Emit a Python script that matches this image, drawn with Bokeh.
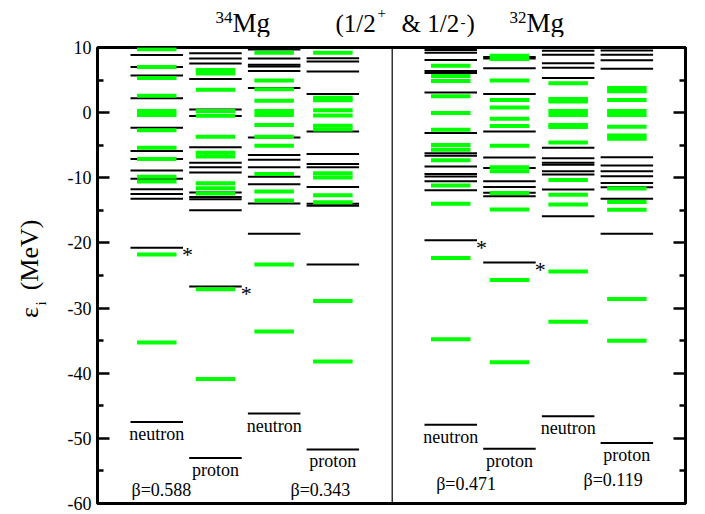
import numpy as np
from bokeh.plotting import figure
from bokeh.layouts import column, row
from bokeh.models import Range1d, LinearAxis, FixedTicker, Span, Label, ColumnDataSource
from bokeh.embed import file_html
from bokeh.resources import INLINE

# ---------------- data (single-particle energies, MeV) ----------------
nuclei = ["34Mg", "34Mg", "34Mg", "34Mg", "32Mg", "32Mg", "32Mg", "32Mg"]
kinds = ["neutron", "proton", "neutron", "proton", "neutron", "proton", "neutron", "proton"]
betas = ["\u03b2=0.588", "\u03b2=0.343", "\u03b2=0.471", "\u03b2=0.119"]

black_1 = [8.83, 7.0, 5.7, 2.2, -2.3, -5.87, -7.1, -8.9, -10.15, -11.75, -12.5, -13.2, -20.75, -47.5]
green_1 = [9.75, 7.0, 5.3, 2.6, 0.26, -0.35, -2.7, -5.4, -7.1, -9.85, -10.57, -21.76, -35.3]

black_2 = [9.1, 8.3, 7.55, 5.15, 0.5, -0.5, -5.33, -7.7, -8.4, -9.2, -12.25, -12.95, -13.3, -15.0, -26.7, -53.0]
green_2 = [6.55, 6.0, 3.5, 0.26, -0.46, -3.7, -6.15, -6.75, -10.85, -11.6, -12.4, -27.1, -40.9]

black_3 = [9.7, 8.3, 7.35, 7.1, 6.4, 3.8, -3.8, -6.5, -7.25, -8.4, -9.85, -11.0, -13.95, -18.6, -46.2]
green_3 = [9.2, 4.95, 3.6, 1.82, 0.26, -0.35, -1.9, -3.7, -5.08, -9.4, -12.1, -13.5, -23.3, -33.6]

black_4 = [8.35, 7.85, 6.3, 2.87, -2.9, -6.35, -7.9, -8.4, -11.4, -14.0, -14.3, -23.3, -51.7]
green_4 = [9.2, 2.3, 1.9, 0.38, -0.45, -2.0, -2.6, -9.3, -9.97, -12.7, -13.75, -28.9, -38.2]

black_5 = [9.6, 9.2, 8.1, 6.4, 6.1, 3.08, -3.12, -6.25, -6.6, -8.28, -9.42, -9.8, -10.55, -11.9, -19.6, -47.9]
green_5 = [7.2, 5.62, 4.87, 2.5, -0.07, -2.62, -4.97, -5.7, -7.3, -11.17, -14.0, -22.3, -34.8]

black_6 = [8.55, 8.3, 6.8, 2.85, -2.9, -6.9, -8.5, -10.55, -11.4, -12.3, -12.85, -23.0, -51.6]
green_6 = [8.75, 8.25, 4.93, 1.95, 0.8, -0.95, -2.05, -5.1, -8.4, -9.0, -12.35, -14.85, -25.7, -38.3]

black_7 = [9.5, 8.9, 7.6, 6.9, 5.3, -5.38, -7.0, -7.68, -8.0, -9.0, -9.5, -11.8, -15.9, -46.6]
green_7 = [4.5, 2.1, 1.7, 0.26, -0.35, -1.9, -2.2, -4.6, -10.35, -12.6, -14.1, -24.4, -32.1]

black_8 = [9.55, 8.9, 8.05, 6.75, -6.85, -8.1, -9.0, -9.75, -10.8, -11.45, -13.22, -18.6, -50.7]
green_8 = [3.8, 3.3, 1.95, 0.26, -0.35, -2.15, -3.5, -4.0, -11.65, -13.72, -14.9, -28.6, -35.0]

black_levels = [black_1, black_2, black_3, black_4, black_5, black_6, black_7, black_8]
green_levels = [green_1, green_2, green_3, green_4, green_5, green_6, green_7, green_8]

star_cols = [0, 1, 4, 5]
star_levels = [-20.75, -26.7, -19.6, -23.0]

y_ticks = [-60, -50, -40, -30, -20, -10, 0, 10]
y_tick_labels = ["-60", "-50", "-40", "-30", "-20", "-10", "0", "10"]
y_minor = [-55, -45, -35, -25, -15, -5, 5]

# ---------------- layout ----------------
W, H = 705, 514
TITLE_H = 37
YLAB_W = 60
FRAME_W = 588
COL_W = 52.5
GREEN_IN = 6.5
COL_STEP = 58.7
HALF = 294.0
FIRST = 33.0
FONT = "Liberation Serif"


def col_x0(i):
    return FIRST + COL_STEP * (i % 4) + HALF * (i // 4)


def bare_fig(w, h):
    f = figure(width=w, height=h, x_range=Range1d(0, w), y_range=Range1d(0, h),
               output_backend="svg", toolbar_location=None, x_axis_type=None, y_axis_type=None,
               min_border=0, min_border_left=0, min_border_right=0, min_border_top=0,
               min_border_bottom=0)
    f.outline_line_color = None
    f.background_fill_color = "white"
    f.border_fill_color = "white"
    return f


# ---------- title strip (page pixels; y is the vertical centre of the text box) ----------
tf = bare_fig(W, TITLE_H)
title_parts = [
    ("34", 215, 16.5, "17px"), ("Mg", 232, 22.0, "27px"),
    ("(1/2", 335, 22.5, "25px"), ("+", 377, 12.0, "15px"),
    ("& 1/2", 401, 22.5, "25px"), ("-", 460, 21.5, "15px"), (")", 466, 22.5, "25px"),
    ("32", 509, 16.5, "17px"), ("Mg", 526, 22.0, "27px"),
]
for t, px, py, fs in title_parts:
    tf.add_layout(Label(x=px, y=TITLE_H - py, text=t, text_font=FONT, text_font_size=fs,
                        text_align="left", text_baseline="middle", text_color="black"))

# ---------- y label strip (rotated; x is the centre of the text box) ----------
MAIN_H = H - TITLE_H
yf = bare_fig(YLAB_W, MAIN_H)
ylab = [("\u03b5", 29, 320, "26px"), ("i", 40, 307, "15px"), ("(MeV)", 29, 291, "26px")]
for t, px, py, fs in ylab:
    yf.add_layout(Label(x=px, y=MAIN_H - (py - TITLE_H), text=t, text_font=FONT,
                        text_font_size=fs, angle=np.pi / 2, angle_units="rad",
                        text_align="left", text_baseline="middle", text_color="black"))

# ---------- main plot ----------
bx0, bx1, by = [], [], []
gx0, gx1, gy = [], [], []
for i, (bl, gl) in enumerate(zip(black_levels, green_levels)):
    x0 = col_x0(i)
    for e in bl:
        bx0.append(x0); bx1.append(x0 + COL_W); by.append(e)
    for e in gl:
        gx0.append(x0 + GREEN_IN); gx1.append(x0 + COL_W - GREEN_IN); gy.append(e)

p = figure(width=W - YLAB_W, height=MAIN_H, x_range=Range1d(0, FRAME_W), y_range=Range1d(-60, 10),
           output_backend="svg", toolbar_location=None, x_axis_type=None, y_axis_type=None,
           min_border_left=97 - YLAB_W, min_border_right=20, min_border_top=47 - TITLE_H,
           min_border_bottom=11)
p.background_fill_color = "white"
p.border_fill_color = "white"
p.outline_line_color = "black"
p.outline_line_width = 3
p.outline_line_alpha = 1.0

for loc in ("left", "right"):
    ax = LinearAxis(ticker=FixedTicker(ticks=y_ticks, minor_ticks=y_minor))
    ax.axis_line_color = None
    ax.major_tick_in = 12
    ax.major_tick_out = 0
    ax.minor_tick_in = 6
    ax.minor_tick_out = 0
    ax.major_tick_line_width = 2.5
    ax.minor_tick_line_width = 2.5
    ax.major_tick_line_color = "black"
    ax.minor_tick_line_color = "black"
    if loc == "left":
        ax.major_label_overrides = {t: s for t, s in zip(y_ticks, y_tick_labels)}
        ax.major_label_text_font = FONT
        ax.major_label_text_font_size = "18px"
        ax.major_label_text_color = "black"
        ax.major_label_standoff = 6
    else:
        ax.major_label_text_font_size = "1px"
        ax.major_label_text_color = None
        ax.major_label_standoff = 0
    p.add_layout(ax, loc)

p.add_layout(Span(location=HALF + 0.7, dimension="height", line_color="black", line_width=1.2))

p.segment(x0="x0", y0="y", x1="x1", y1="y",
          source=ColumnDataSource(dict(x0=bx0, x1=bx1, y=by)),
          line_color="black", line_width=2)
p.segment(x0="x0", y0="y", x1="x1", y1="y",
          source=ColumnDataSource(dict(x0=gx0, x1=gx1, y=gy)),
          line_color="#00ff00", line_width=4)

for i, bl in enumerate(black_levels):
    p.add_layout(Label(x=col_x0(i) + COL_W / 2, y=min(bl), text=kinds[i], text_font=FONT,
                       text_font_size="18px", text_align="center", text_baseline="top",
                       y_offset=-2, text_color="black"))

for c, e in zip(star_cols, star_levels):
    p.add_layout(Label(x=col_x0(c) + COL_W - 1, y=e, text="*", text_font=FONT,
                       text_font_size="22px", text_align="left", text_baseline="middle",
                       y_offset=-7, text_color="black"))

beta_pos = [(34, -58.0), (193, -58.0), (338.7, -56.97), (486, -56.46)]
for t, (bx, be) in zip(betas, beta_pos):
    p.add_layout(Label(x=bx, y=be, text=t, text_font=FONT, text_font_size="18px",
                       text_align="left", text_baseline="middle", text_color="black"))

layout = column(tf, row(yf, p))
open("out.html", "w").write(file_html(layout, INLINE))
